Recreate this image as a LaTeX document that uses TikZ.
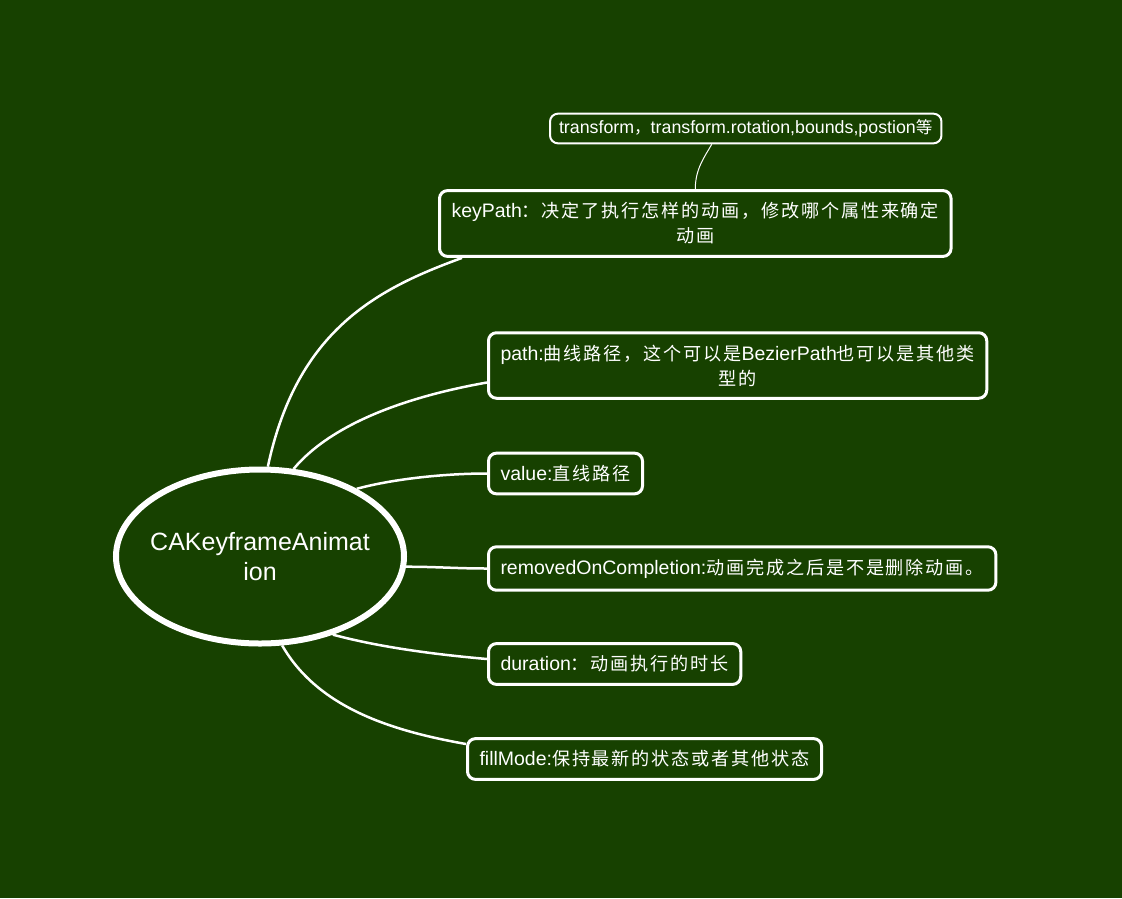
\documentclass[tikz,border=0pt]{standalone}
\usepackage{fontspec}
\setmainfont{Liberation Sans}
\newfontfamily\cjk[Scale=0.93,LetterSpace=10]{Noto Sans CJK SC}
\newcommand{\zh}[1]{{\cjk #1}}
\usetikzlibrary{shapes.geometric,positioning}
\definecolor{FondoVerde}{HTML}{174100}
\tikzset{
  raiz/.style    = {draw=white, ellipse, line width=6pt, align=center,
                    text=white, minimum width=288pt, minimum height=174pt,
                    inner xsep=-10pt, inner ysep=0pt,
                    font=\fontsize{25}{30}\selectfont},
  rama/.style    = {draw=white, rounded corners=8pt, line width=3pt,
                    align=center, text=white, anchor=west,
                    font=\fontsize{19.5}{25}\selectfont,
                    inner xsep=12pt, inner ysep=12pt},
  hoja/.style    = {rama, line width=2pt, font=\fontsize{17.8}{21}\selectfont,
                    inner xsep=9pt, inner ysep=6pt},
  enlace/.style  = {white, line width=2.5pt},
  enlacef/.style = {white, line width=1pt},
}
\begin{document}
\begin{tikzpicture}[x=1pt, y=1pt]
  \fill[FondoVerde] (0,0) rectangle (1122,-898);
  \node[raiz] (raiz) at (260,-556.5) {CAKeyframeAnimat\\ion};
  \node[rama] (kp) at (438,-223.5)
    {keyPath\zh{：决定了执行怎样的动画，修改哪个属性来确定}\\\zh{动画}};
  \node[hoja] (tf) at (549,-128.5)
    {transform\zh{，}transform.rotation,bounds,postion\zh{等}};
  \node[rama] (pth) at (487,-365.5)
    {path:\zh{曲线路径，这个可以是}BezierPath\zh{也可以是其他类}\\\zh{型的}};
  \node[rama] (val) at (487,-473.5) {value:\zh{直线路径}};
  \node[rama] (rem) at (487,-568.5)
    {removedOnCompletion:\zh{动画完成之后是不是删除动画。}};
  \node[rama] (dur) at (487,-664) {duration\zh{：动画执行的时长}};
  \node[rama] (fm) at (466,-759) {fillMode:\zh{保持最新的状态或者其他状态}};
  \draw[enlace] (raiz.85) .. controls +(78:140) and +(-160:90) .. ([xshift=24pt]kp.south west);
  \draw[enlace] (raiz.69) .. controls +(50:60) and +(-170:80) .. ([yshift=-17pt]pth.west);
  \draw[enlace] (raiz.35) .. controls +(15:40) and +(180:40) .. (val.west);
  \draw[enlace] (raiz.-4) .. controls +(0:30) and +(180:30) .. (rem.west);
  \draw[enlace] (raiz.-47) .. controls +(-15:50) and +(175:50) .. ([yshift=5pt]dur.west);
  \draw[enlace] (raiz.-76) .. controls +(-60:70) and +(170:80) .. ([yshift=15pt]fm.west);
  \draw[enlacef] (kp.north) .. controls +(90:20) and +(-120:15) .. ([xshift=-34pt]tf.south);
\end{tikzpicture}
\end{document}
